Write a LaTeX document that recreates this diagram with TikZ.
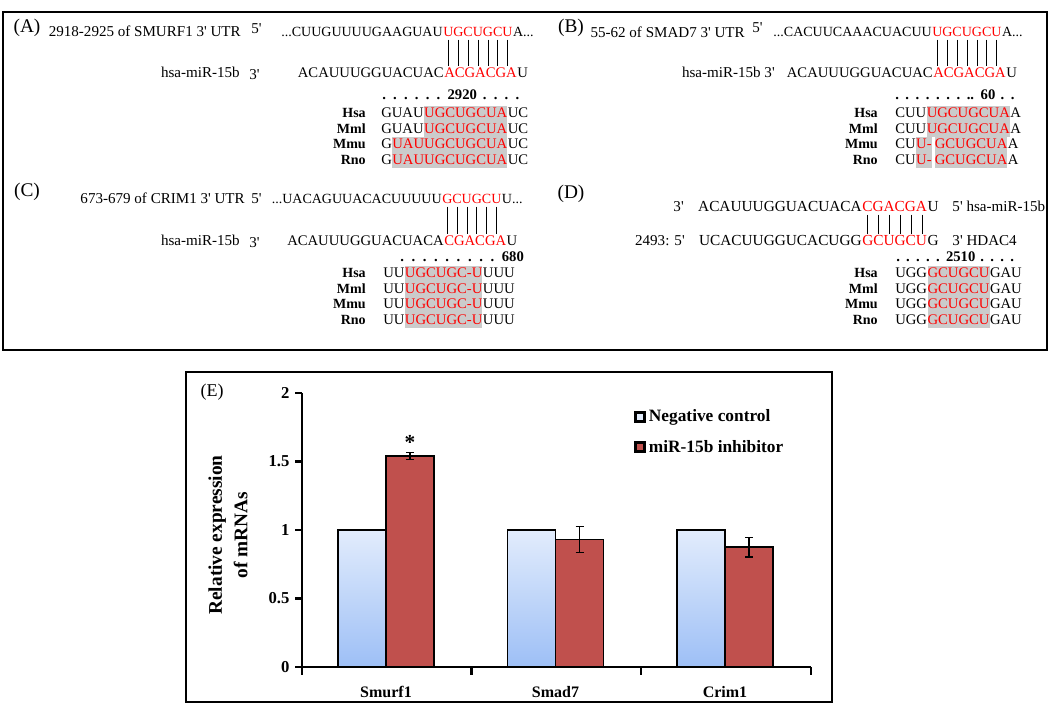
\documentclass[tikz,border=0pt]{standalone}
\usepackage{fontspec}
\setmainfont{Liberation Serif}[Ligatures=TeXOff]
\usetikzlibrary{calc,positioning}
\definecolor{hlgray}{HTML}{CBCBCB}
\definecolor{ntred}{HTML}{FF0000}
\definecolor{barred}{HTML}{C0504D}
\definecolor{bluetop}{HTML}{E2ECFC}
\definecolor{bluebot}{HTML}{9DBFF6}

% wide-spaced position ruler over the alignments
\newcommand{\rulerfont}[1]{\bfseries\fontsize{11}{12}\selectfont\setlength{\spaceskip}{#1}}

% one row of a species alignment: name, label x, seq x, baseline, label, before, site, after
\newcommand{\seqrow}[8]{%
  \node[spname, anchor=base east] (#1l) at (#2,#4) {#5};
  \node[aln, anchor=base west] (#1a) at (#3,#4) {#6};
  \node[aln, hl, anchor=base west] (#1b) at (#1a.base east) {#7};
  \node[aln, anchor=base west] (#1c) at (#1b.base east) {#8};
}

\begin{document}
\begin{tikzpicture}[x=0.75pt, y=-0.75pt,
    plabel/.style={font=\fontsize{14.5}{16}\selectfont, inner sep=0pt},
    ann/.style={font=\fontsize{11.3}{13}\selectfont, inner sep=0pt},
    nt/.style={font=\fontsize{11}{13}\selectfont, inner sep=0pt},
    mnt/.style={font=\fontsize{10.5}{13}\selectfont, inner sep=0pt},
    pairbar/.style={line width=0.5pt, shorten <=2pt, shorten >=1.5pt},
    aln/.style={font=\fontsize{11}{12}\selectfont, inner sep=0pt, text height=8.7pt, text depth=2.9pt},
    hl/.style={text=ntred, fill=hlgray},
    spname/.style={font=\bfseries\fontsize{10.5}{11}\selectfont, inner sep=0pt},
    ruler/.style={inner sep=0pt},
    axisline/.style={line width=1.6pt},
    ticklab/.style={font=\bfseries\fontsize{12.5}{14}\selectfont},
    catlab/.style={font=\bfseries\fontsize{12}{14}\selectfont},
    bar/.style={draw=black, line width=1.3pt},
    errbar/.style={line width=1.3pt},
    legsq/.style={draw=black, line width=2pt, minimum size=7pt, inner sep=0pt},
    legtxt/.style={font=\bfseries\fontsize{13}{14}\selectfont, inner sep=2pt}
  ]
  \useasboundingbox (0,0) rectangle (1050,705);
  \draw[line width=1.9pt] (3,12) rectangle (1047,350);

  % panel A
  \node[plabel] (labA) at (27,28) {(A)};
  \node[ann, anchor=base east] (utrA) at (241,37) {2918-2925 of SMURF1 3' UTR};
  \node[ann, anchor=base west] (p5A) at (251,34) {5'};
  \node[mnt, anchor=base east] (mA1) at (443,37) {...CUUGUUUUGAAGUAU};
  \node[mnt, text=ntred, anchor=base west] (mA2) at (mA1.base east) {UGCUGCU};
  \node[mnt, anchor=base west] (mA3) at (mA2.base east) {A...};
  \node[ann, anchor=base east] (mirA) at (240,78) {hsa-miR-15b};
  \node[ann, anchor=base west] (p3A) at (249,80) {3'};
  \node[nt, anchor=base east] (rA1) at (444,78) {ACAUUUGGUACUAC};
  \node[nt, text=ntred, anchor=base west] (rA2) at (rA1.base east) {ACGACGA};
  \node[nt, anchor=base west] (rA3) at (rA2.base east) {U};
  \foreach \i in {1,...,7}
    \draw[pairbar] ($(mA2.base west)!{(\i-0.5)/7}!(mA2.base east)$) coordinate (pA) -- (pA |- rA2.north);
  \node[ruler, font={\rulerfont{4.5pt}}, anchor=base west] (rulA) at (382,100) {. . . . . . 2920 . . . .};
  \seqrow{hsaA}{366}{381}{118}{Hsa}{GUAU}{UGCUGCUA}{UC}
  \seqrow{mmlA}{366}{381}{133.5}{Mml}{GUAU}{UGCUGCUA}{UC}
  \seqrow{mmuA}{366}{381}{149}{Mmu}{G}{UAUUGCUGCUA}{UC}
  \seqrow{rnoA}{366}{381}{164.5}{Rno}{G}{UAUUGCUGCUA}{UC}

  % panel B
  \node[plabel] (labB) at (571,28) {(B)};
  \node[ann, anchor=base east] (utrB) at (745,38) {55-62 of SMAD7 3' UTR};
  \node[ann, anchor=base west] (p5B) at (752,33) {5'};
  \node[mnt, anchor=base east] (mB1) at (932,37) {...CACUUCAAACUACUU};
  \node[mnt, text=ntred, anchor=base west] (mB2) at (mB1.base east) {UGCUGCU};
  \node[mnt, anchor=base west] (mB3) at (mB2.base east) {A...};
  \node[ann, anchor=base east] (mirB) at (775,78) {hsa-miR-15b 3'};
  \node[nt, anchor=base east] (rB1) at (933,78) {ACAUUUGGUACUAC};
  \node[nt, text=ntred, anchor=base west] (rB2) at (rB1.base east) {ACGACGA};
  \node[nt, anchor=base west] (rB3) at (rB2.base east) {U};
  \foreach \i in {1,...,7}
    \draw[pairbar] ($(mB2.base west)!{(\i-0.5)/7}!(mB2.base east)$) coordinate (pB) -- (pB |- rB2.north);
  \node[ruler, font={\rulerfont{4pt}}, anchor=base west] (rulB) at (895,100) {. . . . . . . .. 60 . .};
  \seqrow{hsaB}{878}{895}{118}{Hsa}{CUU}{UGCUGCUA}{A}
  \seqrow{mmlB}{878}{895}{133.5}{Mml}{CUU}{UGCUGCUA}{A}
  \node[spname, anchor=base east] (mmuBl) at (878,149) {Mmu};
  \node[aln, anchor=base west] (mmuBa) at (895,149) {CU};
  \node[aln, hl, anchor=base west] (mmuBb) at (mmuBa.base east) {U-};
  \node[aln, hl, anchor=base west] (mmuBc) at ([xshift=2pt]mmuBb.base east) {GCUGCUA};
  \node[aln, anchor=base west] (mmuBd) at (mmuBc.base east) {A};
  \node[spname, anchor=base east] (rnoBl) at (878,164.5) {Rno};
  \node[aln, anchor=base west] (rnoBa) at (895,164.5) {CU};
  \node[aln, hl, anchor=base west] (rnoBb) at (rnoBa.base east) {U-};
  \node[aln, hl, anchor=base west] (rnoBc) at ([xshift=2pt]rnoBb.base east) {GCUGCUA};
  \node[aln, anchor=base west] (rnoBd) at (rnoBc.base east) {A};

  % panel C
  \node[plabel] (labC) at (27,192) {(C)};
  \node[ann, anchor=base east] (utrC) at (245,204) {673-679 of CRIM1 3' UTR};
  \node[ann, anchor=base west] (p5C) at (251,204) {5'};
  \node[mnt, anchor=base east] (mC1) at (442,204) {...UACAGUUACACUUUUU};
  \node[mnt, text=ntred, anchor=base west] (mC2) at (mC1.base east) {GCUGCU};
  \node[mnt, anchor=base west] (mC3) at (mC2.base east) {U...};
  \node[ann, anchor=base east] (mirC) at (240,246) {hsa-miR-15b};
  \node[ann, anchor=base west] (p3C) at (249,248) {3'};
  \node[nt, anchor=base east] (rC1) at (444,246) {ACAUUUGGUACUACA};
  \node[nt, text=ntred, anchor=base west] (rC2) at (rC1.base east) {CGACGA};
  \node[nt, anchor=base west] (rC3) at (rC2.base east) {U};
  \foreach \i in {1,...,6}
    \draw[pairbar] ($(mC2.base west)!{(\i-0.5)/6}!(mC2.base east)$) coordinate (pC) -- (pC |- rC2.north);
  \node[ruler, font={\rulerfont{4.8pt}}, anchor=base west] (rulC) at (400,262) {. . . . . . . . . 680};
  \seqrow{hsaC}{366}{383}{278}{Hsa}{UU}{UGCUGC-U}{UUU}
  \seqrow{mmlC}{366}{383}{293.5}{Mml}{UU}{UGCUGC-U}{UUU}
  \seqrow{mmuC}{366}{383}{309}{Mmu}{UU}{UGCUGC-U}{UUU}
  \seqrow{rnoC}{366}{383}{324.5}{Rno}{UU}{UGCUGC-U}{UUU}

  % panel D
  \node[plabel] (labD) at (571,194) {(D)};
  \node[ann, anchor=base east] (p3D) at (684,212) {3'};
  \node[nt, font=\fontsize{11.5}{13}\selectfont, anchor=base east] (rD1) at (862,212) {ACAUUUGGUACUACA};
  \node[nt, font=\fontsize{11.5}{13}\selectfont, text=ntred, anchor=base west] (rD2) at (rD1.base east) {CGACGA};
  \node[nt, font=\fontsize{11.5}{13}\selectfont, anchor=base west] (rD3) at (rD2.base east) {U};
  \node[ann, anchor=base west] (mirD) at ([xshift=10pt]rD3.base east) {5' hsa-miR-15b};
  \node[ann, anchor=base east] (p5D) at (685,246) {2493: 5'};
  \node[nt, font=\fontsize{11.5}{13}\selectfont, anchor=base east] (mD1) at (862,246) {UCACUUGGUCACUGG};
  \node[nt, font=\fontsize{11.5}{13}\selectfont, text=ntred, anchor=base west] (mD2) at (mD1.base east) {GCUGCU};
  \node[nt, font=\fontsize{11.5}{13}\selectfont, anchor=base west] (mD3) at (mD2.base east) {G};
  \node[ann, anchor=base west] (hdacD) at ([xshift=10pt]mD3.base east) {3' HDAC4};
  \foreach \i in {1,...,6}
    \draw[pairbar] ($(rD2.base west)!{(\i-0.5)/6}!(rD2.base east)$) coordinate (pD) -- (pD |- mD2.north);
  \node[ruler, font={\rulerfont{3.8pt}}, anchor=base west] (rulD) at (896,262) {. . . . . 2510 . . . .};
  \seqrow{hsaD}{878}{895}{278}{Hsa}{UGG}{GCUGCU}{GAU}
  \seqrow{mmlD}{878}{895}{293.5}{Mml}{UGG}{GCUGCU}{GAU}
  \seqrow{mmuD}{878}{895}{309}{Mmu}{UGG}{GCUGCU}{GAU}
  \seqrow{rnoD}{878}{895}{324.5}{Rno}{UGG}{GCUGCU}{GAU}

  % panel E
  \draw[line width=1.5pt] (186,372) rectangle (832,702);
  \node[plabel, font=\fontsize{13.5}{15}\selectfont] (labE) at (212,392) {(E)};
  \foreach \rv/\ev [count=\k] in {1.54/0.025,0.93/0.095,0.875/0.07}{
    \pgfmathsetmacro{\cx}{386+169.5*(\k-1)}
    \draw[bar, top color=bluetop, bottom color=bluebot] (\cx-48,667) rectangle (\cx,530);
    \draw[bar, fill=barred] (\cx,667) rectangle (\cx+48,{667-137*\rv});
    \draw[errbar] (\cx+24,{667-137*(\rv-\ev)}) -- (\cx+24,{667-137*(\rv+\ev)});
    \draw[errbar] (\cx+20,{667-137*(\rv-\ev)}) -- (\cx+28,{667-137*(\rv-\ev)});
    \draw[errbar] (\cx+20,{667-137*(\rv+\ev)}) -- (\cx+28,{667-137*(\rv+\ev)});
  }
  \draw[axisline] (302,393) -- (302,667) -- (811,667);
  \foreach \v in {0,0.5,1,1.5,2}
    \draw[axisline] (302,{667-137*\v}) -- ++(-7,0) node[ticklab, left] {\v};
  \foreach \x in {302,471.5,641,811}
    \draw[axisline] (\x,667) -- ++(0,8);
  \node[font=\bfseries\fontsize{16}{16}\selectfont] (star) at (410,442) {*};
  \node[catlab] (catS1) at (386,692) {Smurf1};
  \node[catlab] (catS7) at (555.5,692) {Smad7};
  \node[catlab] (catC1) at (725,692) {Crim1};
  \node[font=\bfseries\fontsize{14.5}{19}\selectfont, rotate=90, align=center] (ylab) at (228,535) {Relative expression\\of mRNAs};
  \node[legsq, fill=bluetop] (lgNC) at (640,417) {};
  \node[legtxt, anchor=west] (lgNCt) at (lgNC.east) {Negative control};
  \node[legsq, fill=barred] (lgIN) at (640,447) {};
  \node[legtxt, anchor=west] (lgINt) at (lgIN.east) {miR-15b inhibitor};
\end{tikzpicture}
\end{document}
